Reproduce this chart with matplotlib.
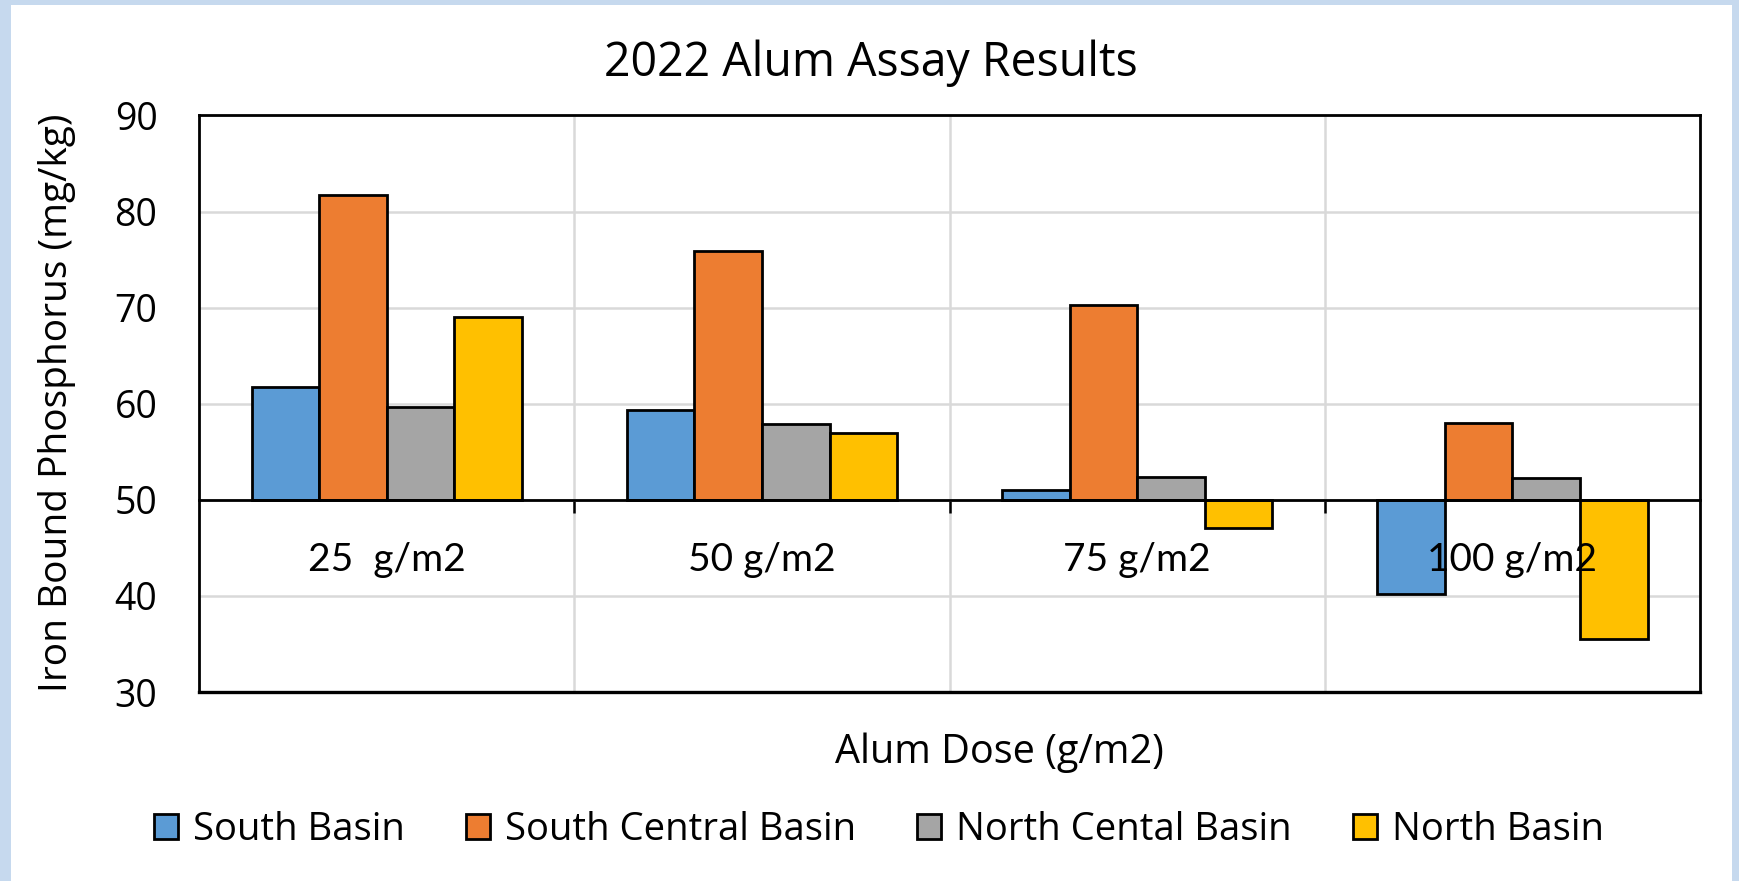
import numpy as np
import matplotlib
matplotlib.use('Agg')
import matplotlib.pyplot as plt
import matplotlib.patches as pch

plt.rcParams['font.family'] = ['Open Sans', 'DejaVu Sans']

doses = ['25  g/m2', '50 g/m2', '75 g/m2', '100 g/m2']
series = ['South Basin', 'South Central Basin', 'North Cental Basin', 'North Basin']
south = [61.7, 59.3, 51.0, 40.2]
south_central = [81.7, 75.9, 70.3, 58.0]
north_central = [59.7, 57.9, 52.4, 52.3]
north = [69.0, 57.0, 47.1, 35.5]
colors = ['#5B9BD5', '#ED7D31', '#A5A5A5', '#FFC000']
base = 50

fig = plt.figure(figsize=(17.39, 8.81), dpi=100)
fig.patch.set_facecolor('#c6d9ee')
# white chart panel over the photo background
fig.patches.append(pch.Rectangle((0.0063, 0.0), 0.9897, 0.9943, transform=fig.transFigure,
                                 facecolor='white', edgecolor='none', zorder=0))

ax = fig.add_axes([0.1145, 0.2145, 0.8631, 0.6545])
ax.set_zorder(1)

x = np.arange(len(doses))
w = 0.18
vals = [south, south_central, north_central, north]
for i, (v, c, name) in enumerate(zip(vals, colors, series)):
    v = np.array(v)
    ax.bar(x + (i - 1.5) * w, v - base, w, bottom=base, color=c,
           edgecolor='black', linewidth=2.0, label=name, zorder=3)

ax.set_xlim(-0.5, len(doses) - 0.5)
ax.set_ylim(30, 90)
ax.set_yticks(range(30, 91, 10))
ax.tick_params(axis='y', length=0, pad=30, labelsize=27)

# category axis crosses at 50, labels sit on top of the bars
ax.spines['bottom'].set_position(('data', base))
ax.spines['bottom'].set_zorder(4)
ax.set_xticks([])
for xi, lab in zip(x, doses):
    ax.text(xi, 42.6, lab, ha='center', va='baseline', fontsize=28,
            family=['Lato', 'DejaVu Sans'], zorder=6)
ax.set_xticks(np.arange(0.5, len(doses) - 0.5), minor=True)
ax.tick_params(axis='x', which='minor', length=9, width=1.8, direction='out')
ax.axhline(30, color='black', linewidth=2.4, zorder=5, clip_on=False)

for s in ['left', 'right', 'top', 'bottom']:
    ax.spines[s].set_linewidth(2.0)
    ax.spines[s].set_color('black')

ax.grid(axis='y', color='#d9d9d9', linewidth=1.8, zorder=0)
ax.grid(axis='x', which='minor', color='#d9d9d9', linewidth=1.8, zorder=0)
ax.set_axisbelow(True)

fig.text(0.501, 0.928, '2022 Alum Assay Results', ha='center', va='center', fontsize=33.5)
fig.text(0.575, 0.146, 'Alum Dose (g/m2)', ha='center', va='center', fontsize=28.5)
fig.text(0.033, 0.543, 'Iron Bound Phosphorus (mg/kg)', ha='center', va='center',
         rotation=90, fontsize=28)

fig.legend(loc='center', bbox_to_anchor=(0.5055, 0.058), ncol=4, frameon=False,
           fontsize=27.5, handlelength=0.62, handleheight=0.62, handletextpad=0.4,
           columnspacing=1.6)

fig.savefig('out.png', dpi=100, facecolor=fig.get_facecolor())
